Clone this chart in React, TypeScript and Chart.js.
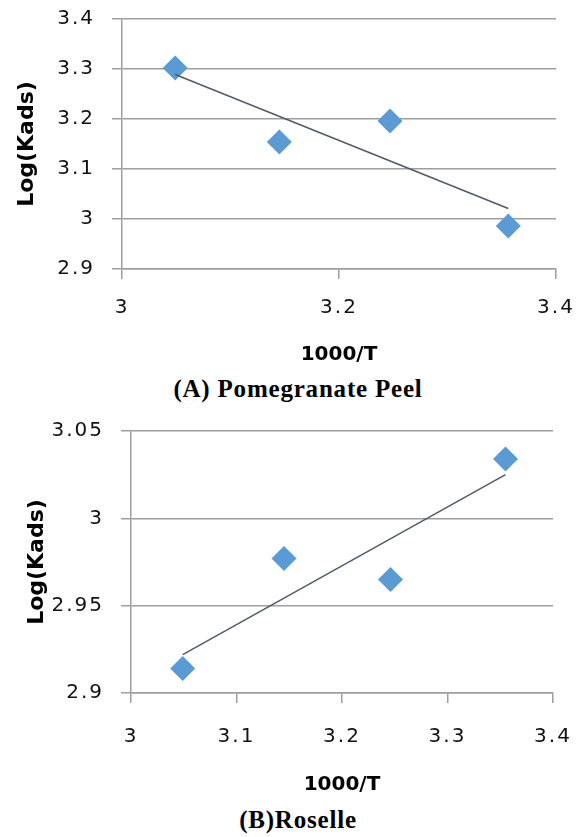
import React, { useEffect, useRef } from 'react';
import { Chart, registerables } from 'chart.js';

Chart.register(...registerables);

// ---------- Panel A: Pomegranate Peel ----------
const xA = [3.049, 3.145, 3.247, 3.356];
const yA = [3.302, 3.154, 3.196, 2.986];
const trendAX = [3.049, 3.356];
const trendAY = [3.289, 3.021];
const xTicksA = [3, 3.2, 3.4];
const xTickLabelsA = ['3', '3.2', '3.4'];
const yTicksA = [2.9, 3, 3.1, 3.2, 3.3, 3.4];
const yTickLabelsA = ['2.9', '3', '3.1', '3.2', '3.3', '3.4'];

// ---------- Panel B: Roselle ----------
const xB = [3.049, 3.145, 3.246, 3.355];
const yB = [2.914, 2.977, 2.965, 3.034];
const trendBX = [3.049, 3.355];
const trendBY = [2.922, 3.025];
const xTicksB = [3, 3.1, 3.2, 3.3, 3.4];
const xTickLabelsB = ['3', '3.1', '3.2', '3.3', '3.4'];
const yTicksB = [2.9, 2.95, 3, 3.05];
const yTickLabelsB = ['2.9', '2.95', '3', '3.05'];

const xTitle = '1000/T';
const yTitle = 'Log(Kads)';
const captionA = '(A) Pomegranate Peel';
const captionB = '(B)Roselle';

const GRID = '#9e9e9e';
const MARKER = '#5b9bd5';
const TREND = '#4f5b68';
const TEXT = '#111111';
const FONT = '"DejaVu Sans", Verdana, sans-serif';

const spacingPlugin = {
  id: 'letterSpacing',
  beforeUpdate(chart: any) {
    (chart.ctx as any).letterSpacing = '2px';
  },
  afterUpdate(chart: any) {
    Object.values(chart.scales).forEach((s: any) => {
      if (!s.__patchedTitle) {
        const orig = s.drawTitle.bind(s);
        s.drawTitle = (...args: any[]) => {
          const ctx: any = s.ctx;
          const prev = ctx.letterSpacing;
          ctx.letterSpacing = '0px';
          orig(...args);
          ctx.letterSpacing = prev;
        };
        s.__patchedTitle = true;
      }
    });
  },
  beforeDraw(chart: any) {
    (chart.ctx as any).letterSpacing = '2px';
  },
};

interface PanelCfg {
  xs: number[];
  ys: number[];
  tx: number[];
  ty: number[];
  xTicks: number[];
  xLabels: string[];
  yTicks: number[];
  yLabels: string[];
  yAxisWidth: number;
  xAxisHeight: number;
  padTop: number;
  padRight: number;
  xTickPad: number;
  yTitlePad: number;
}

function makeChart(canvas: HTMLCanvasElement, c: PanelCfg) {
  const points = c.xs.map((x, i) => ({ x, y: c.ys[i] }));
  const trend = c.tx.map((x, i) => ({ x, y: c.ty[i] }));
  return new Chart(canvas, {
    type: 'scatter',
    data: {
      datasets: [
        {
          data: trend,
          showLine: true,
          borderColor: TREND,
          borderWidth: 1.5,
          pointRadius: 0,
          fill: false,
          order: 0,
        } as any,
        {
          data: points,
          pointStyle: 'rectRot',
          pointRadius: 12.5,
          pointHoverRadius: 12.5,
          backgroundColor: MARKER,
          borderColor: MARKER,
          borderWidth: 0,
          order: 1,
        } as any,
      ],
    },
    options: {
      animation: false,
      responsive: false,
      devicePixelRatio: 1,
      layout: { padding: { top: c.padTop, right: c.padRight, left: 0, bottom: 0 } },
      plugins: {
        legend: { display: false },
        tooltip: { enabled: false },
      },
      events: [],
      scales: {
        x: {
          type: 'linear',
          min: c.xTicks[0],
          max: c.xTicks[c.xTicks.length - 1],
          afterBuildTicks: (scale: any) => {
            scale.ticks = c.xTicks.map((v) => ({ value: v }));
          },
          afterFit: (scale: any) => {
            scale.height = c.xAxisHeight;
            scale.paddingLeft = 0;
            scale.paddingRight = 0;
            scale.paddingTop = 0;
            scale.paddingBottom = 0;
          },
          grid: {
            drawOnChartArea: false,
            drawTicks: true,
            tickLength: 10,
            color: GRID,
            lineWidth: 1.5,
          },
          border: { display: true, color: GRID, width: 1.5 },
          ticks: {
            autoSkip: false,
            maxRotation: 0,
            padding: c.xTickPad,
            color: TEXT,
            font: { family: FONT, size: 20 },
            callback: (_v: any, i: number) => c.xLabels[i],
          },
          title: {
            display: true,
            text: xTitle,
            color: '#000',
            font: { family: FONT, size: 20, weight: 'bold' },
            padding: { top: 0, bottom: 0 },
          },
        },
        y: {
          type: 'linear',
          min: c.yTicks[0],
          max: c.yTicks[c.yTicks.length - 1],
          afterBuildTicks: (scale: any) => {
            scale.ticks = c.yTicks.map((v) => ({ value: v }));
          },
          afterFit: (scale: any) => {
            scale.width = c.yAxisWidth;
            scale.paddingLeft = 0;
            scale.paddingRight = 0;
            scale.paddingTop = 0;
            scale.paddingBottom = 0;
          },
          grid: {
            drawOnChartArea: true,
            drawTicks: true,
            tickLength: 10,
            color: GRID,
            lineWidth: 1.5,
          },
          border: { display: true, color: GRID, width: 1.5 },
          ticks: {
            autoSkip: false,
            padding: 17,
            color: TEXT,
            font: { family: FONT, size: 20 },
            callback: (_v: any, i: number) => c.yLabels[i],
          },
          title: {
            display: true,
            text: yTitle,
            color: '#000',
            font: { family: FONT, size: 22, weight: 'bold' },
            padding: { top: c.yTitlePad, bottom: 0 },
          },
        },
      },
    } as any,
    plugins: [spacingPlugin],
  });
}

const captionStyle: React.CSSProperties = {
  position: 'absolute',
  left: 0,
  width: 596,
  textAlign: 'center',
  fontFamily: '"Liberation Serif", "Times New Roman", serif',
  fontWeight: 'bold',
  fontSize: 25,
  lineHeight: '30px',
  letterSpacing: '0.8px',
  color: '#000',
  whiteSpace: 'nowrap',
};

export default function App() {
  const refA = useRef<HTMLCanvasElement>(null);
  const refB = useRef<HTMLCanvasElement>(null);

  useEffect(() => {
    const a = makeChart(refA.current!, {
      xs: xA, ys: yA, tx: trendAX, ty: trendAY,
      xTicks: xTicksA, xLabels: xTickLabelsA,
      yTicks: yTicksA, yLabels: yTickLabelsA,
      yAxisWidth: 122, xAxisHeight: 98,
      padTop: 19, padRight: 32, xTickPad: 17, yTitlePad: 14,
    });
    const b = makeChart(refB.current!, {
      xs: xB, ys: yB, tx: trendBX, ty: trendBY,
      xTicks: xTicksB, xLabels: xTickLabelsB,
      yTicks: yTicksB, yLabels: yTickLabelsB,
      yAxisWidth: 131, xAxisHeight: 104,
      padTop: 36, padRight: 35, xTickPad: 22, yTitlePad: 24,
    });
    return () => {
      a.destroy();
      b.destroy();
    };
  }, []);

  return (
    <div style={{ position: 'absolute', left: 0, top: 0, width: 588, height: 837, background: '#fff', overflow: 'hidden' }}>
      <canvas ref={refA} width={588} height={367} style={{ position: 'absolute', left: 0, top: 0 }} />
      <div style={{ ...captionStyle, top: 374 }}>{captionA}</div>
      <canvas ref={refB} width={588} height={402} style={{ position: 'absolute', left: 0, top: 395 }} />
      <div style={{ ...captionStyle, top: 805 }}>{captionB}</div>
    </div>
  );
}
